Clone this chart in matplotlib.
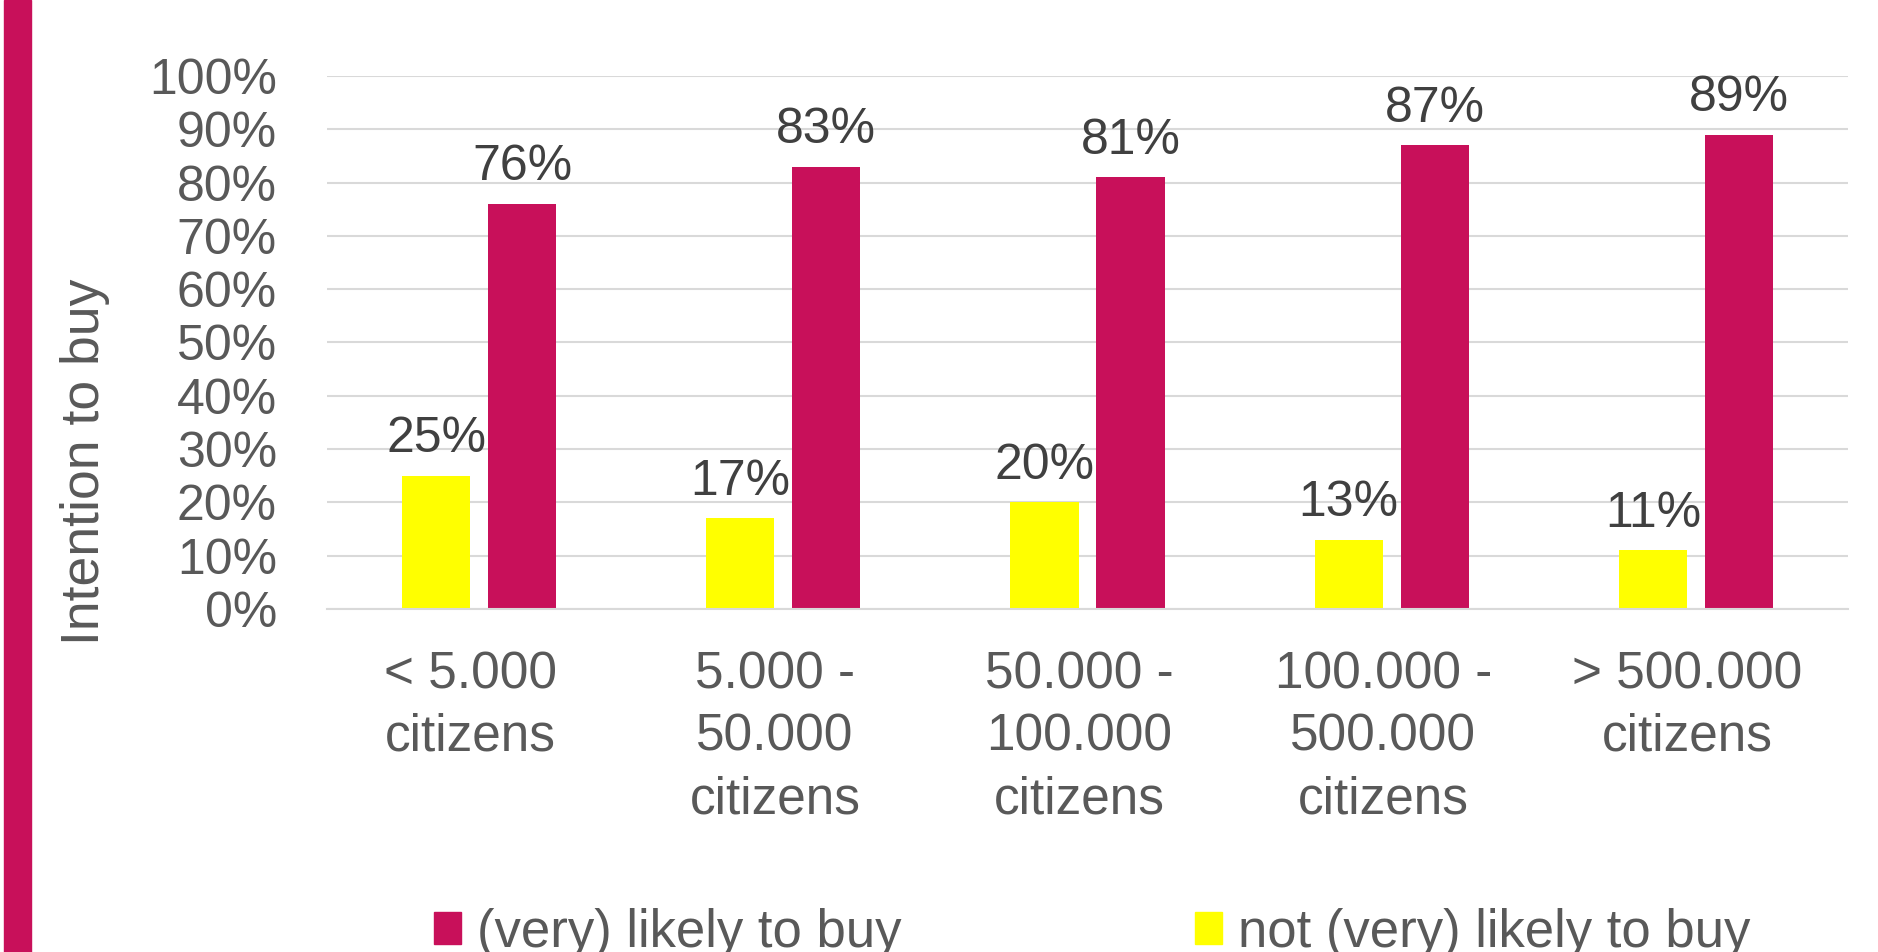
import numpy as np
import matplotlib.pyplot as plt
import matplotlib.transforms as mtransforms
from matplotlib.patches import Rectangle, Patch

plt.rcParams["font.family"] = ["Liberation Sans", "DejaVu Sans"]

categories = [
    "< 5.000\ncitizens",
    "5.000 -\n50.000\ncitizens",
    "50.000 -\n100.000\ncitizens",
    "100.000 -\n500.000\ncitizens",
    "> 500.000\ncitizens",
]
likely = [76, 83, 81, 87, 89]
not_likely = [25, 17, 20, 13, 11]

magenta = "#C8105A"
yellow = "#FFFF00"
grid_grey = "#D9D9D9"
tick_grey = "#595959"
label_grey = "#404040"

fig = plt.figure(figsize=(18.78, 9.52), dpi=100)
ax = fig.add_axes([0.1741, 0.3603, 0.8099, 0.5599])

# accent strip down the left edge
fig.patches.append(Rectangle((4 / 1878, 0), 27 / 1878, 1, transform=fig.transFigure,
                             color=magenta, zorder=0))

x = np.arange(len(categories))
w = 0.224
off = 0.1414
b_no = ax.bar(x - off, not_likely, w, color=yellow, zorder=2)
b_yes = ax.bar(x + off, likely, w, color=magenta, zorder=2)

for bars, vals in ((b_no, not_likely), (b_yes, likely)):
    for rect, v in zip(bars, vals):
        ax.annotate(f"{v}%", (rect.get_x() + rect.get_width() / 2, v),
                    xytext=(0, 17), textcoords="offset points",
                    ha="center", va="baseline", fontsize=36, color=label_grey)

ax.set_xlim(-0.5, len(categories) - 0.5)
ax.set_ylim(0, 100)
ax.set_yticks(range(0, 101, 10))
ax.set_yticklabels([f"{t}%" for t in range(0, 101, 10)])
ax.set_xticks(x)
ax.set_xticklabels(categories, linespacing=1.35)

ax.tick_params(axis="y", length=0, pad=36, labelsize=36, labelcolor=tick_grey)
ax.tick_params(axis="x", length=0, pad=30, labelsize=37, labelcolor=tick_grey)

# nudge the category labels a little to the left
shift = mtransforms.ScaledTranslation(-6 / 72, 0, fig.dpi_scale_trans)
for lbl in ax.get_xticklabels():
    lbl.set_transform(lbl.get_transform() + shift)

ax.grid(axis="y", color=grid_grey, linewidth=1.5)
ax.set_axisbelow(True)
for side in ("left", "right", "top"):
    ax.spines[side].set_visible(False)
ax.spines["bottom"].set_color(grid_grey)
ax.spines["bottom"].set_linewidth(1.5)

fig.text(85 / 1878, 0.515, "Intention to buy", rotation=90, ha="center", va="center",
         fontsize=38.5, color=tick_grey)

handles = [Patch(color=magenta), Patch(color=yellow)]
fig.legend(handles, ["(very) likely to buy", "not (very) likely to buy"],
           loc="center left", bbox_to_anchor=(434 / 1878, 0.02), ncol=2,
           frameon=False, fontsize=38, labelcolor=tick_grey,
           handlelength=0.52, handleheight=0.55, handletextpad=0.3,
           columnspacing=5.55, borderpad=0, borderaxespad=0)

fig.savefig("out.png", dpi=100)
